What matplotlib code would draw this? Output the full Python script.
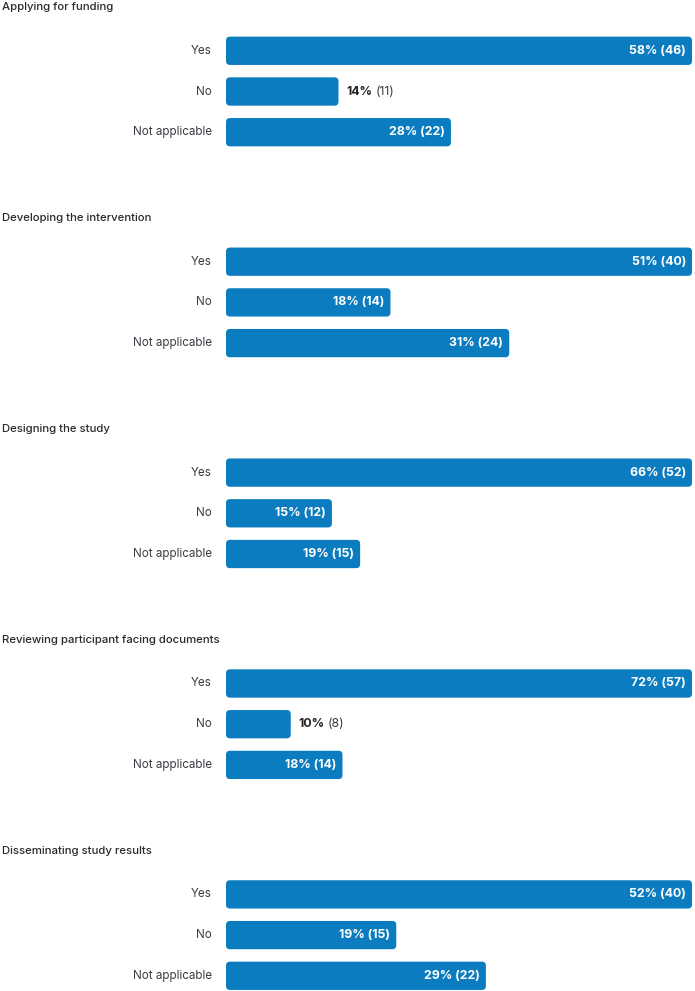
import matplotlib.pyplot as plt
from matplotlib.patches import FancyBboxPatch

plt.rcParams['font.family'] = ['Inter', 'DejaVu Sans']

titles = ["Applying for funding",
          "Developing the intervention",
          "Designing the study",
          "Reviewing participant facing documents",
          "Disseminating study results"]
answers = ["Yes", "No", "Not applicable"]
pcts = [[58, 14, 28],
        [51, 18, 31],
        [66, 15, 19],
        [72, 10, 18],
        [52, 19, 29]]
counts = [[46, 11, 22],
          [40, 14, 24],
          [52, 12, 15],
          [57, 8, 14],
          [40, 15, 22]]

W, H = 695, 991
bar_col = '#0a7cbf'
lab_col = '#3a3a42'

fig = plt.figure(figsize=(W / 100, H / 100), dpi=100)
fig.patch.set_facecolor('white')

left_px, width_px = 226, 466
pitch = 40.7
bar_h = 28.3 / pitch
for i, title in enumerate(titles):
    mid = 91.5 + 210.9 * i
    top = mid - 1.5 * pitch
    ax = fig.add_axes([left_px / W, 1 - (top + 3 * pitch) / H, width_px / W, 3 * pitch / H])
    vmax = max(pcts[i])
    ax.set_xlim(0, vmax)
    ax.set_ylim(2.5, -0.5)
    ax.axis('off')
    r = 4 * vmax / width_px
    asp = (3 / (3 * pitch)) / (vmax / width_px)
    for j, ans in enumerate(answers):
        p = pcts[i][j]
        c = counts[i][j]
        ax.add_patch(FancyBboxPatch((0, j - bar_h / 2), p, bar_h,
                                    boxstyle="round,pad=0,rounding_size=%f" % r,
                                    mutation_aspect=asp, fc=bar_col, ec='none'))
        ax.annotate(ans, (0, j), xytext=(-14, 0), textcoords='offset pixels',
                    ha='right', va='center', fontsize=8.4, color=lab_col)
        if p >= 15:
            ax.annotate("%d%% (%d)" % (p, c), (p, j), xytext=(-6, 0),
                        textcoords='offset pixels', ha='right', va='center',
                        fontsize=8.9, color='white', fontweight='bold')
        else:
            t = ax.annotate("%d%%" % p, (p, j), xytext=(8, 0),
                            textcoords='offset pixels', ha='left', va='center',
                            fontsize=8.9, color='#222222', fontweight='bold')
            ax.annotate("(%d)" % c, xy=(1, 0.5), xycoords=t, xytext=(3, 0),
                        textcoords='offset pixels', ha='left', va='center',
                        fontsize=8.9, color='#3a3a42')
    fig.text(2 / W, 1 - (mid - 84.5) / H, title, ha='left', va='center',
             fontsize=8.2, color='#2a2a2a', fontweight='medium')

fig.savefig('out.png', dpi=100)
